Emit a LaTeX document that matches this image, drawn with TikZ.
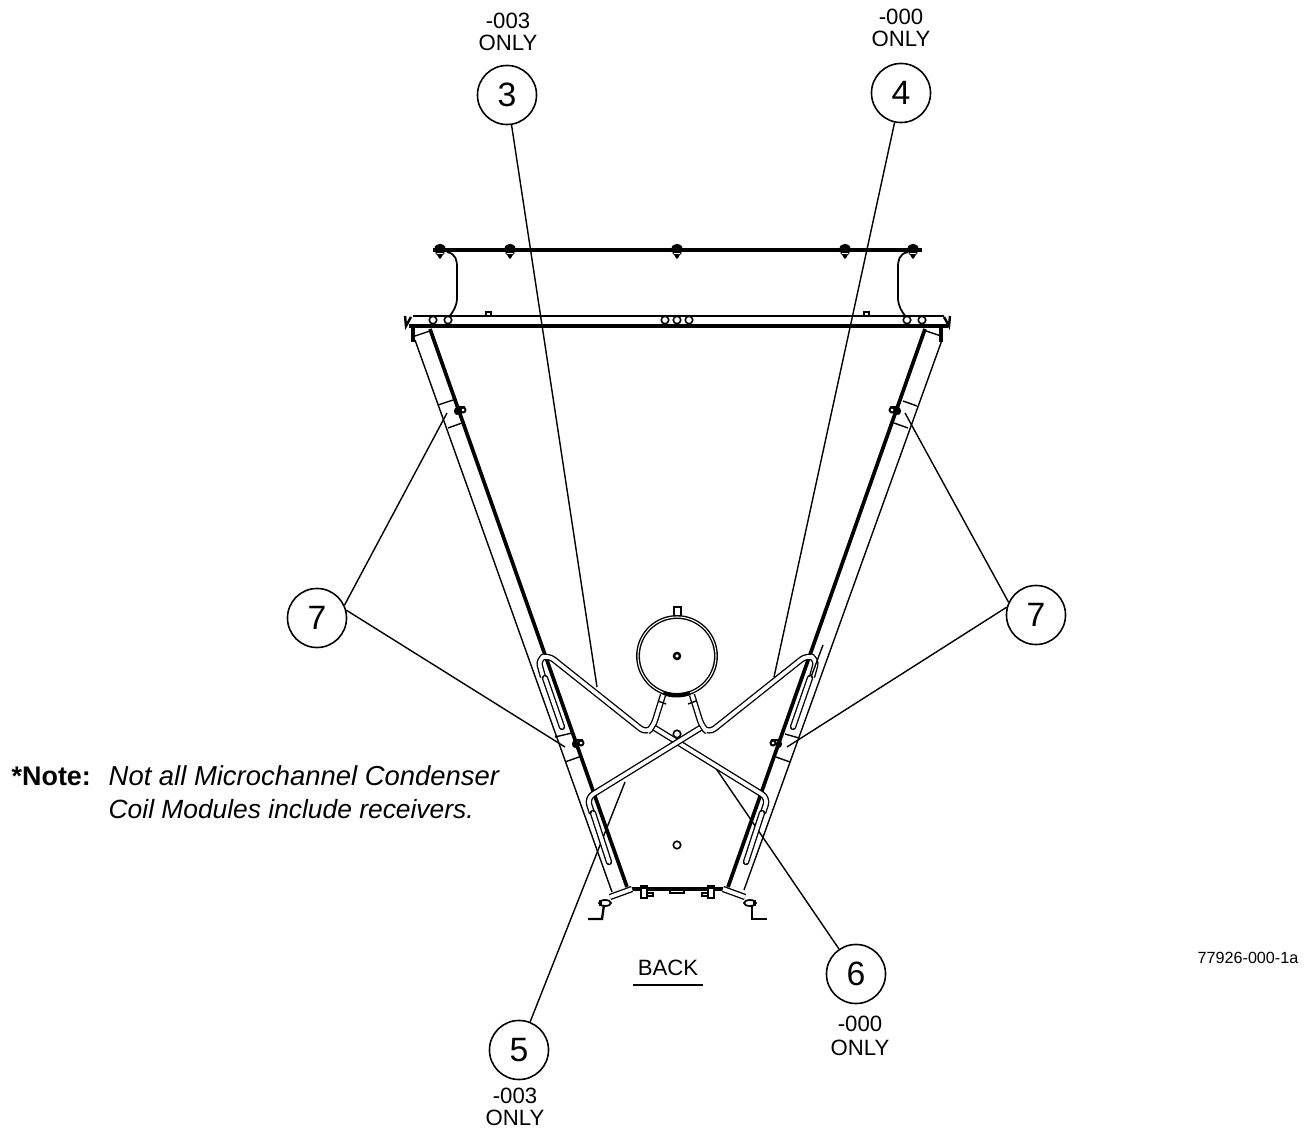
\documentclass[tikz,border=0pt]{standalone}
\usepackage{fontspec}
\setmainfont{Liberation Sans}
\usepackage{tikz}
\tikzset{
    tube/.style={draw=black, line width=0.38pt, double=white, double distance=1.05pt},
    thinline/.style={draw=black, line width=0.4pt},
    heavyline/.style={draw=black, line width=1.05pt},
    hole/.style={circle, draw=black, line width=0.45pt, fill=white, minimum size=0.75mm, inner sep=0pt},
    tagtext/.style={align=center, font=\fontsize{6.3}{6.3}\selectfont, inner sep=0pt},
    notetext/.style={anchor=west, inner sep=0pt},
    topbolt/.pic={
        \fill[rounded corners=1pt] (-6,-1) -- (-4,-6) -- (4,-6) -- (6,-1) -- (5,3) -- (2,5) -- (0,11) -- (-2,5) -- (-5,3) -- cycle;
        \draw[white, line width=0.25pt] (-3,3) -- (3,3);
    },
    sidebolt/.pic={
        \fill[rounded corners=1pt] (-5,-4) rectangle (1,4);
        \draw[line width=0.55pt] (4,-1) circle (2.5);
        \draw[thinline] (-1,-4) -- (6,-4);
    },
    footbolt/.pic={
        \draw[line width=0.5pt, fill=white] (-3,-6) rectangle (3,6);
        \draw[thinline] (3,1) rectangle (9,4);
        \fill (-3,-6) rectangle (3,-3);
    },
    foothook/.pic={
        \draw[line width=0.5pt] (0,0) ellipse (6 and 3);
        \fill (-6,-3) rectangle (-3,3);
    },
}

\begin{document}
\begin{tikzpicture}[x=0.01cm, y=-0.01cm]
    \useasboundingbox (0,0) rectangle (1309,1128);

    % leader ends
    \coordinate (endC) at (597,687);
    \coordinate (endD) at (774,677);
    \coordinate (endE) at (625,782);
    \coordinate (endF) at (715,767);
    \coordinate (endGa) at (447,413);
    \coordinate (endGb) at (565,747);
    \coordinate (endHa) at (905,413);
    \coordinate (endHb) at (787,747);

    \begin{scope}[every node/.style={circle, draw=black, line width=0.45pt, minimum size=5.9mm, inner sep=0pt, font=\fontsize{9.6}{11}\selectfont}]
        \node (tagC) at (507,95) {3};
        \node (tagD) at (901,93) {4};
        \node (tagE) at (519,1050) {5};
        \node (tagF) at (856,974) {6};
        \node (tagG) at (317,618) {7};
        \node (tagH) at (1036,615) {7};
    \end{scope}

    \begin{scope}[every edge/.style={thinline}]
        \path (tagC) edge (endC);
        \path (tagD) edge (endD);
        \path (tagE) edge (endE);
        \path (tagF) edge (endF);
        \path (tagG.25) edge (endGa);
        \path (tagG.15) edge (endGb);
        \path (tagH.155) edge (endHa);
        \path (tagH.165) edge (endHb);
    \end{scope}

    % top rail and panel
    \draw[draw=black, line width=1.35pt] (433,250) -- (922,250);
    \pic at (440,250) {topbolt};
    \pic at (510,250) {topbolt};
    \pic at (677,250) {topbolt};
    \pic at (845,250) {topbolt};
    \pic at (913,250) {topbolt};
    \draw[line width=0.5pt] (447,252) .. controls (456,254) and (457,260) .. (457,268) -- (457,298) .. controls (457,306) and (453,312) .. (449,317);
    \draw[line width=0.5pt] (908,252) .. controls (899,254) and (898,260) .. (898,268) -- (898,298) .. controls (898,306) and (902,312) .. (906,317);
    \draw[line width=0.45pt] (413,316) -- (944,316);
    \draw[line width=0.9pt] (409,326) -- (948,326);
    \draw[line width=0.7pt] (405,316) -- (406,326) -- (411,317);
    \draw[line width=0.7pt] (950,316) -- (949,326) -- (944,317);
    \draw[line width=0.45pt] (486,316) -- (486,312) -- (491,312) -- (491,316);
    \draw[line width=0.45pt] (864,316) -- (864,312) -- (869,312) -- (869,316);
    \node[hole] (panelA) at (433,320) {};
    \node[hole] (panelB) at (448,320) {};
    \node[hole] (panelC) at (665,320) {};
    \node[hole] (panelD) at (677,320) {};
    \node[hole] (panelE) at (689,320) {};
    \node[hole] (panelF) at (907,320) {};
    \node[hole] (panelG) at (922,320) {};

    % side struts
    \draw[heavyline] (430,329) -- (627,887);
    \draw[thinline] (415,340) -- (612,892);
    \draw[heavyline] (925,329) -- (728,887);
    \draw[thinline] (942,340) -- (744,890);
    \draw[line width=0.9pt] (413,327) -- (413,342);
    \draw[line width=0.9pt] (941,327) -- (941,342);
    \draw[thinline] (415,336) -- (430,331);
    \draw[thinline] (941,336) -- (926,331);

    % clamps
    \draw[thinline] (438,405) -- (453,400);
    \draw[thinline] (448,428) -- (462,423);
    \draw[thinline] (903,401) -- (917,406);
    \draw[thinline] (894,423) -- (908,428);
    \draw[thinline] (555,737) -- (572,733);
    \draw[thinline] (565,762) -- (579,757);
    \draw[thinline] (785,734) -- (799,738);
    \draw[thinline] (776,757) -- (790,762);
    \pic at (459,411) {sidebolt};
    \pic at (577,744) {sidebolt};
    \pic[xscale=-1] at (896,411) {sidebolt};
    \pic[xscale=-1] at (777,744) {sidebolt};

    % receiver
    \draw[line width=0.45pt] (674,617) -- (674,607) -- (681,607) -- (681,617);
    \draw[draw=black, line width=0.4pt, double=white, double distance=0.3pt] (677,656) circle (39);
    \draw[line width=1.2pt] (690,693) arc[start angle=70, end angle=110, radius=39];
    \node[hole, minimum size=0.6mm, line width=0.7pt] (rcvdot) at (677,656) {};
    \node[hole] (midhole) at (677,734) {};
    \node[hole] (lowhole) at (677,845) {};

    % coil tubes
    \draw[tube, rounded corners=2pt] (653,727) -- (768,798) -- (763,813);
    \draw[tube, rounded corners=2pt] (702,727) -- (587,798) -- (592,813);
    \draw[tube, rounded corners=2pt] (543,677) -- (538,659) -- (548,655) -- (646,733) -- (653,727) -- (663,695);
    \draw[tube, rounded corners=2pt] (812,677) -- (817,659) -- (807,655) -- (709,733) -- (702,727) -- (692,695);
    \draw[thinline] (823,645) -- (811,677);
    \draw[tube, line cap=round] (545,678) -- (562,727);
    \draw[tube, line cap=round] (810,678) -- (793,727);
    \draw[tube, line cap=round] (593,813) -- (609,862);
    \draw[tube, line cap=round] (762,813) -- (746,862);
    \draw[thinline] (658,701) -- (666,704);
    \draw[thinline] (696,701) -- (688,704);

    % bottom bracket
    \draw[line width=0.9pt] (632,889) -- (723,889);
    \draw[tube] (610,897) -- (632,889);
    \draw[tube] (745,897) -- (723,889);
    \draw[line width=0.35pt] (670,890) rectangle (684,893);
    \pic at (644,892) {footbolt};
    \pic[xscale=-1] at (711,892) {footbolt};
    \draw[line width=0.65pt] (588,919) -- (602,919) -- (604,905);
    \draw[line width=0.65pt] (767,919) -- (752,919) -- (752,905);
    \pic at (605,903) {foothook};
    \pic[xscale=-1] at (750,903) {foothook};

    % labels
    \node[tagtext] (onlyC) at (508,32) {-003\\ONLY};
    \node[tagtext] (onlyD) at (901,28) {-000\\ONLY};
    \node[tagtext] (onlyE) at (515,1107) {-003\\ONLY};
    \node[tagtext, font=\fontsize{6.3}{6.7}\selectfont] (onlyF) at (860,1036) {-000\\ONLY};
    \node[tagtext] (backlabel) at (668,968) {BACK};
    \draw[thinline] (633,985) -- (703,985);
    \node[tagtext, font=\fontsize{4.6}{6}\selectfont] (drawingno) at (1248,958) {77926-000-1a};
    \node[notetext, font=\fontsize{7.65}{9}\selectfont\bfseries] (notehead) at (11,776) {*Note:};
    \node[notetext, font=\fontsize{7.8}{9}\selectfont\itshape] (noteA) at (108,776) {Not all Microchannel Condenser};
    \node[notetext, font=\fontsize{7.5}{9}\selectfont\itshape] (noteB) at (108,809) {Coil Modules include receivers.};
\end{tikzpicture}
\end{document}
